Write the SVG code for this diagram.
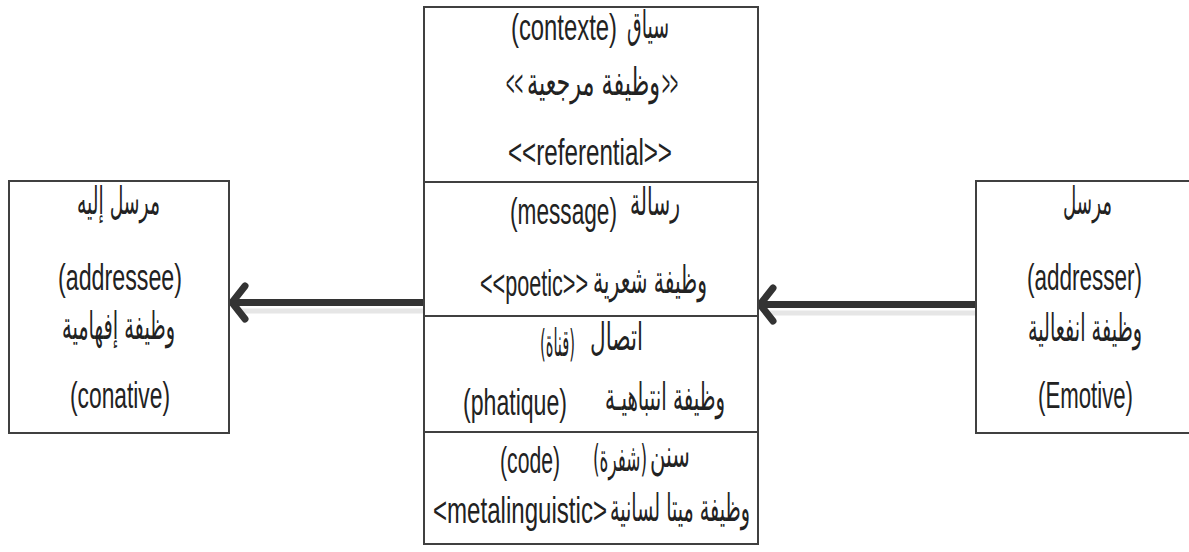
<svg xmlns="http://www.w3.org/2000/svg" width="1189" height="552" viewBox="0 0 1189 552">
  <style>
    .box { fill: #ffffff; stroke: #404040; stroke-width: 2; }
    .div { stroke: #404040; stroke-width: 2; }
    .lat { font-family: "Liberation Sans", "DejaVu Sans", sans-serif; font-size: 36px; fill: #222222; }
    .ar { font-family: "DejaVu Sans", "Noto Sans", sans-serif; font-size: 38px; fill: #222222; }
    .shaft { stroke: #333333; stroke-width: 7; fill: none; }
    .head { stroke: #333333; stroke-width: 7; fill: none; stroke-linecap: round; stroke-linejoin: miter; }
    .shadow { stroke: #e6e6e6; stroke-width: 5; fill: none; }
  </style>
  <rect width="1189" height="552" fill="#ffffff"/>

  <!-- connectors: sender -> message -> receiver -->
  <g id="connectors">
    <line class="shadow" x1="240" y1="311" x2="424" y2="311"/>
    <line class="shaft" x1="236" y1="302.5" x2="424" y2="302.5"/>
    <polyline class="head" points="245,286 232,302.5 245,319"/>
    <line class="shadow" x1="768" y1="313" x2="976" y2="313"/>
    <line class="shaft" x1="764" y1="304.5" x2="976" y2="304.5"/>
    <polyline class="head" points="773,288 760,304.5 773,321"/>
  </g>

  <!-- central stack: context / message / contact / code -->
  <g id="center-stack">
    <rect class="box" x="424" y="7" width="334" height="537"/>
    <line class="div" x1="424" y1="182" x2="758" y2="182"/>
    <line class="div" x1="424" y1="316" x2="758" y2="316"/>
    <line class="div" x1="424" y1="432" x2="758" y2="432"/>
  </g>

  <g id="context">
    <text class="lat" x="511" y="40" textLength="106" lengthAdjust="spacingAndGlyphs">(contexte)</text>
    <text class="ar" x="627" y="38" textLength="42" lengthAdjust="spacingAndGlyphs">سياق</text>
    <text class="lat" x="506" y="96" textLength="17" lengthAdjust="spacingAndGlyphs">&lt;&lt;</text>
    <text class="ar" x="527" y="95" textLength="133" lengthAdjust="spacingAndGlyphs">وظيفة مرجعية</text>
    <text class="lat" x="662" y="96" textLength="16" lengthAdjust="spacingAndGlyphs">&gt;&gt;</text>
    <text class="lat" x="508" y="165" textLength="164" lengthAdjust="spacingAndGlyphs">&lt;&lt;referential&gt;&gt;</text>
  </g>

  <g id="message">
    <text class="lat" x="510" y="224" textLength="107" lengthAdjust="spacingAndGlyphs">(message)</text>
    <text class="ar" x="630" y="215" textLength="50" lengthAdjust="spacingAndGlyphs">رسالة</text>
    <text class="lat" x="480" y="296" textLength="108" lengthAdjust="spacingAndGlyphs">&lt;&lt;poetic&gt;&gt;</text>
    <text class="ar" x="593" y="293" textLength="114" lengthAdjust="spacingAndGlyphs">وظيفة شعرية</text>
  </g>

  <g id="contact">
    <text class="ar" x="540" y="356" textLength="35" lengthAdjust="spacingAndGlyphs">(قناة)</text>
    <text class="ar" x="590" y="350" textLength="53" lengthAdjust="spacingAndGlyphs">اتصال</text>
    <text class="lat" x="463" y="415" textLength="104" lengthAdjust="spacingAndGlyphs">(phatique)</text>
    <text class="ar" x="605" y="410" textLength="120" lengthAdjust="spacingAndGlyphs">وظيفة انتباهيـة</text>
  </g>

  <g id="code">
    <text class="lat" x="500" y="473" textLength="60" lengthAdjust="spacingAndGlyphs">(code)</text>
    <text class="ar" x="593" y="471" textLength="54" lengthAdjust="spacingAndGlyphs">(شفرة)</text>
    <text class="ar" x="650" y="467" textLength="40" lengthAdjust="spacingAndGlyphs">سنن</text>
    <text class="lat" x="433" y="523" textLength="174" lengthAdjust="spacingAndGlyphs">&lt;metalinguistic&gt;</text>
    <text class="ar" x="610" y="521" textLength="140" lengthAdjust="spacingAndGlyphs">وظيفة ميتا لسانية</text>
  </g>

  <!-- receiver -->
  <g id="addressee">
    <rect class="box" x="9" y="181" width="220" height="252"/>
    <text class="ar" x="77" y="214" textLength="83" lengthAdjust="spacingAndGlyphs">مرسل إليه</text>
    <text class="lat" x="58" y="290" textLength="124" lengthAdjust="spacingAndGlyphs">(addressee)</text>
    <text class="ar" x="62" y="339" textLength="113" lengthAdjust="spacingAndGlyphs">وظيفة إفهامية</text>
    <text class="lat" x="70" y="408" textLength="100" lengthAdjust="spacingAndGlyphs">(conative)</text>
  </g>

  <!-- sender -->
  <g id="addresser">
    <rect class="box" x="976" y="181" width="215" height="252"/>
    <text class="ar" x="1063" y="214" textLength="49" lengthAdjust="spacingAndGlyphs">مرسل</text>
    <text class="lat" x="1027" y="290" textLength="115" lengthAdjust="spacingAndGlyphs">(addresser)</text>
    <text class="ar" x="1028" y="341" textLength="114" lengthAdjust="spacingAndGlyphs">وظيفة انفعالية</text>
    <text class="lat" x="1038" y="408" textLength="95" lengthAdjust="spacingAndGlyphs">(Emotive)</text>
  </g>
</svg>
